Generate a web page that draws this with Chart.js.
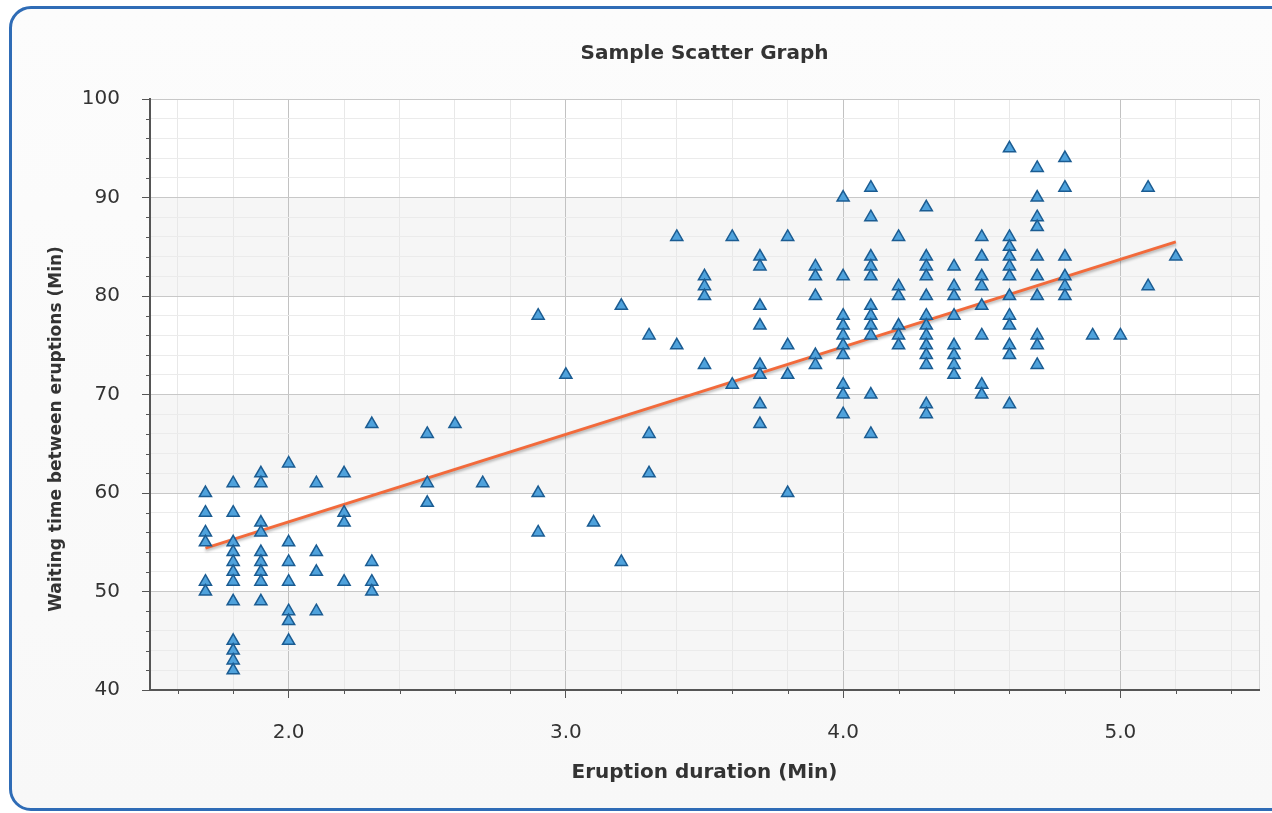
<!DOCTYPE html>
<html>
<head>
<meta charset="utf-8">
<title>Sample Scatter Graph</title>
<script src="https://cdn.jsdelivr.net/npm/chart.js@4.4.1/dist/chart.umd.min.js"></script>
<style>
    html, body { margin: 0; padding: 0; width: 1272px; height: 813px; overflow: hidden; background: #fff; }
    #frame {
        position: absolute; left: 9px; top: 6px; width: 1320px; height: 805px;
        border: 3px solid #2f6cb6; border-radius: 22px; box-sizing: border-box;
        background: linear-gradient(#fcfcfc, #f8f8f8);
    }
    #wrap { position: absolute; left: 0; top: 0; width: 1272px; height: 813px; }
</style>
</head>
<body>
<div id="frame"></div>
<div id="wrap"><canvas id="scatterChart"></canvas></div>
<script>
// Eruption durations (x) and the waiting times read for each of them (y)
const durations = [1.7, 1.8, 1.9, 2.0, 2.1, 2.2, 2.3, 2.5, 2.6, 2.7, 2.9, 3.0, 3.1, 3.2, 3.3, 3.4, 3.5,
    3.6, 3.7, 3.8, 3.9, 4.0, 4.1, 4.2, 4.3, 4.4, 4.5, 4.6, 4.7, 4.8, 4.9, 5.0, 5.1, 5.2];
const waitingByDuration = [
    [60, 58, 56, 55, 51, 50],
    [61, 58, 55, 54, 53, 52, 51, 49, 45, 44, 43, 42],
    [62, 61, 57, 56, 54, 53, 52, 51, 49],
    [63, 55, 53, 51, 48, 47, 45],
    [61, 54, 52, 48],
    [62, 58, 57, 51],
    [67, 53, 51, 50],
    [66, 61, 59],
    [67],
    [61],
    [78, 60, 56],
    [72],
    [57],
    [79, 53],
    [76, 66, 62],
    [86, 75],
    [82, 81, 80, 73],
    [86, 71],
    [84, 83, 79, 77, 73, 72, 69, 67],
    [86, 75, 72, 60],
    [83, 82, 80, 74, 73],
    [90, 82, 78, 77, 76, 75, 74, 71, 70, 68],
    [91, 88, 84, 83, 82, 79, 78, 77, 76, 70, 66],
    [86, 81, 80, 77, 76, 75],
    [89, 84, 83, 82, 80, 78, 77, 76, 75, 74, 73, 69, 68],
    [83, 81, 80, 78, 75, 74, 73, 72],
    [86, 84, 82, 81, 79, 76, 71, 70],
    [95, 86, 85, 84, 83, 82, 80, 78, 77, 75, 74, 69],
    [93, 90, 88, 87, 84, 82, 80, 76, 75, 73],
    [94, 91, 84, 82, 81, 80],
    [76],
    [76],
    [91, 81],
    [84]
];

// Fitted trend line end points
const trendX = [1.7, 5.2];
const trendY = [54.4, 85.5];

// Axis ranges: x gridlines every 0.2 (labels on whole numbers), y every 2 (labels every 10)
const xRange = [1.5, 5.5];
const yRange = [40, 100];

const chartTitle = 'Sample Scatter Graph';
const xTitle = 'Eruption duration (Min)';
const yTitle = 'Waiting time between eruptions (Min)';

const FONT = "'DejaVu Sans', Verdana, sans-serif";

const isMajorX = v => Math.abs(v - Math.round(v)) < 1e-6;
const isOnGridX = v => Math.abs(v * 5 - Math.round(v * 5)) < 1e-6;
const isMajorY = v => Math.round(v) % 10 === 0;

// White plot area with faint alternating bands
const plotBands = {
    id: 'plotBands',
    beforeDraw(chart) {
        const { ctx, chartArea: a, scales: { y } } = chart;
        ctx.save();
        ctx.fillStyle = '#ffffff';
        ctx.fillRect(a.left, a.top, a.right - a.left, a.bottom - a.top);
        ctx.fillStyle = '#f6f6f6';
        [[40, 50], [60, 70], [80, 90]].forEach(([lo, hi]) => {
            const top = y.getPixelForValue(hi);
            const bottom = y.getPixelForValue(lo);
            ctx.fillRect(a.left, top, a.right - a.left, bottom - top);
        });
        ctx.restore();
    }
};

// Short tick marks for the minor steps
const minorTicks = {
    id: 'minorTicks',
    afterDraw(chart) {
        const { ctx, chartArea: a, scales: { x, y } } = chart;
        ctx.save();
        ctx.strokeStyle = '#555';
        ctx.lineWidth = 1;
        ctx.beginPath();
        x.ticks.forEach(t => {
            if (isOnGridX(t.value) && !isMajorX(t.value)) {
                const px = Math.round(x.getPixelForValue(t.value)) + 0.5;
                ctx.moveTo(px, a.bottom);
                ctx.lineTo(px, a.bottom + 4);
            }
        });
        y.ticks.forEach(t => {
            if (!isMajorY(t.value)) {
                const py = Math.round(y.getPixelForValue(t.value)) + 0.5;
                ctx.moveTo(a.left, py);
                ctx.lineTo(a.left - 4, py);
            }
        });
        ctx.stroke();
        ctx.restore();
    }
};

// Y title is centred over the whole axis strip (plot + x labels), not only the plot
const yAxisTitle = {
    id: 'yAxisTitle',
    afterDraw(chart) {
        const { ctx, chartArea: a, scales: { x, y } } = chart;
        ctx.save();
        ctx.translate(y.left + 12, (a.top + x.bottom) / 2 - 13);
        ctx.rotate(-Math.PI / 2);
        ctx.font = 'bold 17px ' + FONT;
        ctx.fillStyle = '#333';
        ctx.textAlign = 'center';
        ctx.textBaseline = 'middle';
        ctx.fillText(yTitle, 0, 0);
        ctx.restore();
    }
};

// Soft shadow under the trend line
const lineShadow = {
    id: 'lineShadow',
    beforeDatasetDraw(chart, args) {
        if (args.index !== 1) return;
        const ctx = chart.ctx;
        ctx.save();
        ctx.shadowColor = 'rgba(0, 0, 0, 0.3)';
        ctx.shadowBlur = 3;
        ctx.shadowOffsetY = 2;
    },
    afterDatasetDraw(chart, args) {
        if (args.index !== 1) return;
        chart.ctx.restore();
    }
};

function initScatterChart() {
    const canvas = document.getElementById('scatterChart');
    if (!canvas) return;

    const points = [];
    durations.forEach((d, i) => {
        waitingByDuration[i].forEach(w => points.push({ x: d, y: w }));
    });
    const trend = trendX.map((x, i) => ({ x: x, y: trendY[i] }));

    // tick positions: both ends plus every 0.2 in between
    const xTickValues = [xRange[0]];
    for (let k = Math.ceil(xRange[0] * 5 + 1e-9); k <= Math.floor(xRange[1] * 5 - 1e-9); k++) {
        xTickValues.push(k / 5);
    }
    xTickValues.push(xRange[1]);

    return new Chart(canvas, {
        type: 'scatter',
        data: {
            datasets: [
                {
                    label: 'Eruptions',
                    data: points,
                    pointStyle: 'triangle',
                    pointRadius: 7,
                    backgroundColor: '#4fa2dc',
                    borderColor: '#1b5c92',
                    borderWidth: 1.5,
                    order: 1
                },
                {
                    label: 'Trend',
                    data: trend,
                    showLine: true,
                    borderColor: '#f26a3b',
                    borderWidth: 3,
                    pointRadius: 0,
                    fill: false,
                    order: 2
                }
            ]
        },
        options: {
            responsive: true,
            maintainAspectRatio: false,
            animation: false,
            layout: {
                autoPadding: false,
                padding: { left: 45, right: 13, top: 0, bottom: 28 }
            },
            plugins: {
                legend: { display: false },
                tooltip: { enabled: false },
                title: {
                    display: true,
                    fullSize: false,
                    text: chartTitle,
                    color: '#333',
                    font: { family: FONT, size: 20, weight: 'bold' },
                    padding: { top: 42, bottom: 33 }
                }
            },
            scales: {
                x: {
                    type: 'linear',
                    min: xRange[0],
                    max: xRange[1],
                    afterBuildTicks: axis => {
                        axis.ticks = xTickValues.map(v => ({ value: v }));
                    },
                    afterFit: axis => {
                        axis.height = 95;
                        // end labels are blank, so no side padding is needed
                        axis.paddingLeft = 0;
                        axis.paddingRight = 0;
                    },
                    border: { display: true, color: '#555', width: 2 },
                    grid: {
                        color: ctx => {
                            const v = ctx.tick.value;
                            if (!isOnGridX(v)) return v > 5 ? '#d6d6d6' : 'transparent';
                            return isMajorX(v) ? '#c2c2c2' : '#e8e8e8';
                        },
                        tickColor: ctx => isMajorX(ctx.tick.value) && isOnGridX(ctx.tick.value) ? '#555' : 'transparent',
                        tickLength: 8
                    },
                    ticks: {
                        autoSkip: false,
                        maxRotation: 0,
                        padding: 23,
                        color: '#333',
                        font: { family: FONT, size: 20 },
                        callback: v => isMajorX(v) && isOnGridX(v) ? Number(v).toFixed(1) : ''
                    },
                    title: {
                        display: true,
                        text: xTitle,
                        color: '#333',
                        font: { family: FONT, size: 20, weight: 'bold' },
                        padding: { top: 10, bottom: 0 }
                    }
                },
                y: {
                    min: yRange[0],
                    max: yRange[1],
                    afterFit: axis => { axis.width = 105; },
                    border: { display: true, color: '#555', width: 2 },
                    grid: {
                        color: ctx => isMajorY(ctx.tick.value) ? '#c8c8c8' : '#ebebeb',
                        tickColor: ctx => isMajorY(ctx.tick.value) ? '#555' : 'transparent',
                        tickLength: 8
                    },
                    ticks: {
                        stepSize: 2,
                        autoSkip: false,
                        padding: 22,
                        color: '#333',
                        font: { family: FONT, size: 20 },
                        callback: v => isMajorY(v) ? String(v) : ''
                    },
                    title: { display: false }
                }
            }
        },
        plugins: [plotBands, minorTicks, yAxisTitle, lineShadow]
    });
}

document.addEventListener('DOMContentLoaded', function() {
    initScatterChart();
});
</script>
</body>
</html>
